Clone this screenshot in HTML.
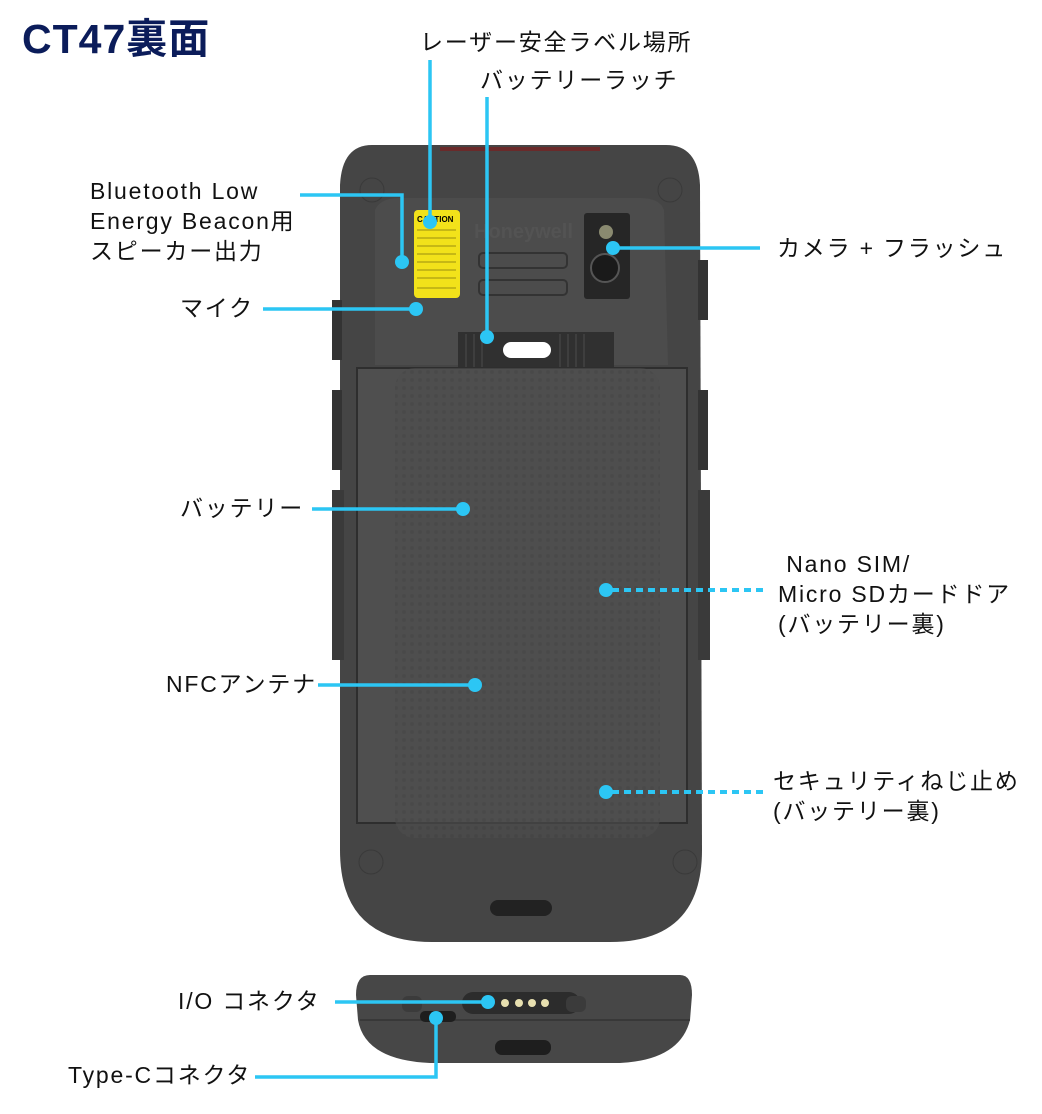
<!DOCTYPE html>
<html><head><meta charset="utf-8"><style>
body{margin:0;background:#fff;width:1042px;height:1114px;overflow:hidden;position:relative;font-family:"Liberation Sans","Noto Sans CJK JP",sans-serif;}
.t{position:absolute;font-size:23px;letter-spacing:1.8px;color:#111;line-height:30px;white-space:nowrap;}
</style></head><body>
<svg width="1042" height="1114" style="position:absolute;left:0;top:0" xmlns="http://www.w3.org/2000/svg">
<defs>
<pattern id="tex" width="8" height="8" patternUnits="userSpaceOnUse"><rect width="8" height="8" fill="#4d4d4d"/><circle cx="4" cy="4" r="2" fill="#454545"/></pattern>
</defs>
<path d="M372,145 H666 Q698,145 700,185 L702,850 Q702,942 610,942 H432 Q340,942 340,850 L340,185 Q342,145 372,145Z" fill="#454545"/>
<rect x="332" y="300" width="10" height="60" fill="#333"/>
<rect x="332" y="390" width="10" height="80" fill="#333"/>
<rect x="332" y="490" width="12" height="170" fill="#3a3a3a"/>
<rect x="698" y="260" width="10" height="60" fill="#333"/>
<rect x="698" y="390" width="10" height="80" fill="#333"/>
<rect x="698" y="490" width="12" height="170" fill="#3a3a3a"/>
<rect x="440" y="147" width="160" height="4" fill="#6a2a2a"/>
<path d="M375,210 Q380,198 400,198 H640 Q660,198 664,210 L668,365 H375Z" fill="#4c4c4c"/>
<circle cx="372" cy="190" r="12" fill="none" stroke="#3a3a3a"/>
<circle cx="670" cy="190" r="12" fill="none" stroke="#3a3a3a"/>
<rect x="414" y="210" width="46" height="88" rx="4" fill="#f2e21a"/>
<text x="417" y="222" font-size="8" font-weight="bold" font-family="Liberation Sans">CAUTION</text>
<g stroke="#9a8f10" stroke-width="1"><line x1="417" y1="230" x2="456" y2="230"/><line x1="417" y1="238" x2="456" y2="238"/><line x1="417" y1="246" x2="456" y2="246"/><line x1="417" y1="254" x2="456" y2="254"/><line x1="417" y1="262" x2="456" y2="262"/><line x1="417" y1="270" x2="456" y2="270"/><line x1="417" y1="278" x2="456" y2="278"/><line x1="417" y1="288" x2="456" y2="288"/></g>
<text x="474" y="238" font-size="20" font-weight="bold" fill="#535353" font-family="Liberation Sans">Honeywell</text>
<rect x="479" y="253" width="88" height="15" rx="4" fill="none" stroke="#333" stroke-width="2"/>
<rect x="479" y="280" width="88" height="15" rx="4" fill="none" stroke="#333" stroke-width="2"/>
<rect x="584" y="213" width="46" height="86" rx="3" fill="#262626"/>
<circle cx="606" cy="232" r="7" fill="#8a8a70"/>
<circle cx="605" cy="268" r="14" fill="#1a1a1a" stroke="#555" stroke-width="2"/>
<rect x="458" y="332" width="156" height="38" fill="#303030"/>
<g stroke="#3e3e3e" stroke-width="2"><line x1="466" y1="334" x2="466" y2="368"/><line x1="474" y1="334" x2="474" y2="368"/><line x1="482" y1="334" x2="482" y2="368"/><line x1="560" y1="334" x2="560" y2="368"/><line x1="568" y1="334" x2="568" y2="368"/><line x1="576" y1="334" x2="576" y2="368"/><line x1="584" y1="334" x2="584" y2="368"/></g>
<rect x="503" y="342" width="48" height="16" rx="8" fill="#fff"/>
<rect x="357" y="368" width="330" height="455" fill="#4f4f4f" stroke="#2e2e2e" stroke-width="2"/>
<rect x="395" y="368" width="265" height="470" rx="20" fill="url(#tex)" opacity="0.6"/>
<circle cx="371" cy="862" r="12" fill="none" stroke="#3a3a3a"/>
<circle cx="685" cy="862" r="12" fill="none" stroke="#3a3a3a"/>
<rect x="490" y="900" width="62" height="16" rx="8" fill="#222"/>
<path d="M370,975 H680 Q692,975 692,995 L690,1020 Q680,1060 620,1063 H430 Q365,1060 358,1020 L356,995 Q356,975 370,975Z" fill="#474747"/>
<path d="M360,1020 H690" stroke="#333" stroke-width="1.5"/>
<rect x="462" y="992" width="118" height="22" rx="11" fill="#2c2c2c"/>
<rect x="402" y="996" width="20" height="16" rx="6" fill="#3b3b3b"/>
<rect x="566" y="996" width="20" height="16" rx="6" fill="#3b3b3b"/>
<g fill="#e8e0b0"><circle cx="505" cy="1003" r="4"/><circle cx="519" cy="1003" r="4"/><circle cx="532" cy="1003" r="4"/><circle cx="545" cy="1003" r="4"/></g>
<rect x="420" y="1011" width="36" height="11" rx="5" fill="#1e1e1e"/>
<rect x="495" y="1040" width="56" height="15" rx="7" fill="#1e1e1e"/>
<g stroke="#2cc6f4" stroke-width="3.5" fill="none">
<line x1="430" y1="60" x2="430" y2="222"/>
<line x1="487" y1="97" x2="487" y2="337"/>
<polyline points="300,195 402,195 402,262"/>
<line x1="263" y1="309" x2="416" y2="309"/>
<line x1="613" y1="248" x2="760" y2="248"/>
<line x1="312" y1="509" x2="463" y2="509"/>
<line x1="318" y1="685" x2="475" y2="685"/>
<line x1="335" y1="1002" x2="488" y2="1002"/>
<polyline points="436,1018 436,1077 255,1077"/>
<line x1="612" y1="590" x2="765" y2="590" stroke-width="4" stroke-dasharray="7,5"/>
<line x1="612" y1="792" x2="765" y2="792" stroke-width="4" stroke-dasharray="7,5"/>
</g>
<g fill="#2cc6f4">
<circle cx="430" cy="222" r="7"/><circle cx="487" cy="337" r="7"/><circle cx="402" cy="262" r="7"/><circle cx="416" cy="309" r="7"/><circle cx="613" cy="248" r="7"/><circle cx="463" cy="509" r="7"/><circle cx="606" cy="590" r="7"/><circle cx="475" cy="685" r="7"/><circle cx="606" cy="792" r="7"/><circle cx="488" cy="1002" r="7"/><circle cx="436" cy="1018" r="7"/>
</g>
</svg>
<div class="t" style="left:22px;top:14px;font-size:41px;letter-spacing:1px;line-height:50px;font-weight:bold;color:#0b1c5a">CT47裏面</div>
<div class="t" style="left:420px;top:27px">レーザー安全ラベル場所</div>
<div class="t" style="left:480px;top:65px">バッテリーラッチ</div>
<div class="t" style="left:90px;top:176px">Bluetooth Low<br>Energy Beacon用<br>スピーカー出力</div>
<div class="t" style="left:180px;top:293px">マイク</div>
<div class="t" style="left:777px;top:233px">カメラ + フラッシュ</div>
<div class="t" style="left:180px;top:493px">バッテリー</div>
<div class="t" style="left:778px;top:549px">&nbsp;Nano SIM/<br>Micro SDカードドア<br>(バッテリー裏)</div>
<div class="t" style="left:166px;top:669px">NFCアンテナ</div>
<div class="t" style="left:773px;top:766px">セキュリティねじ止め<br>(バッテリー裏)</div>
<div class="t" style="left:178px;top:986px">I/O コネクタ</div>
<div class="t" style="left:68px;top:1060px">Type-Cコネクタ</div>
</body></html>
